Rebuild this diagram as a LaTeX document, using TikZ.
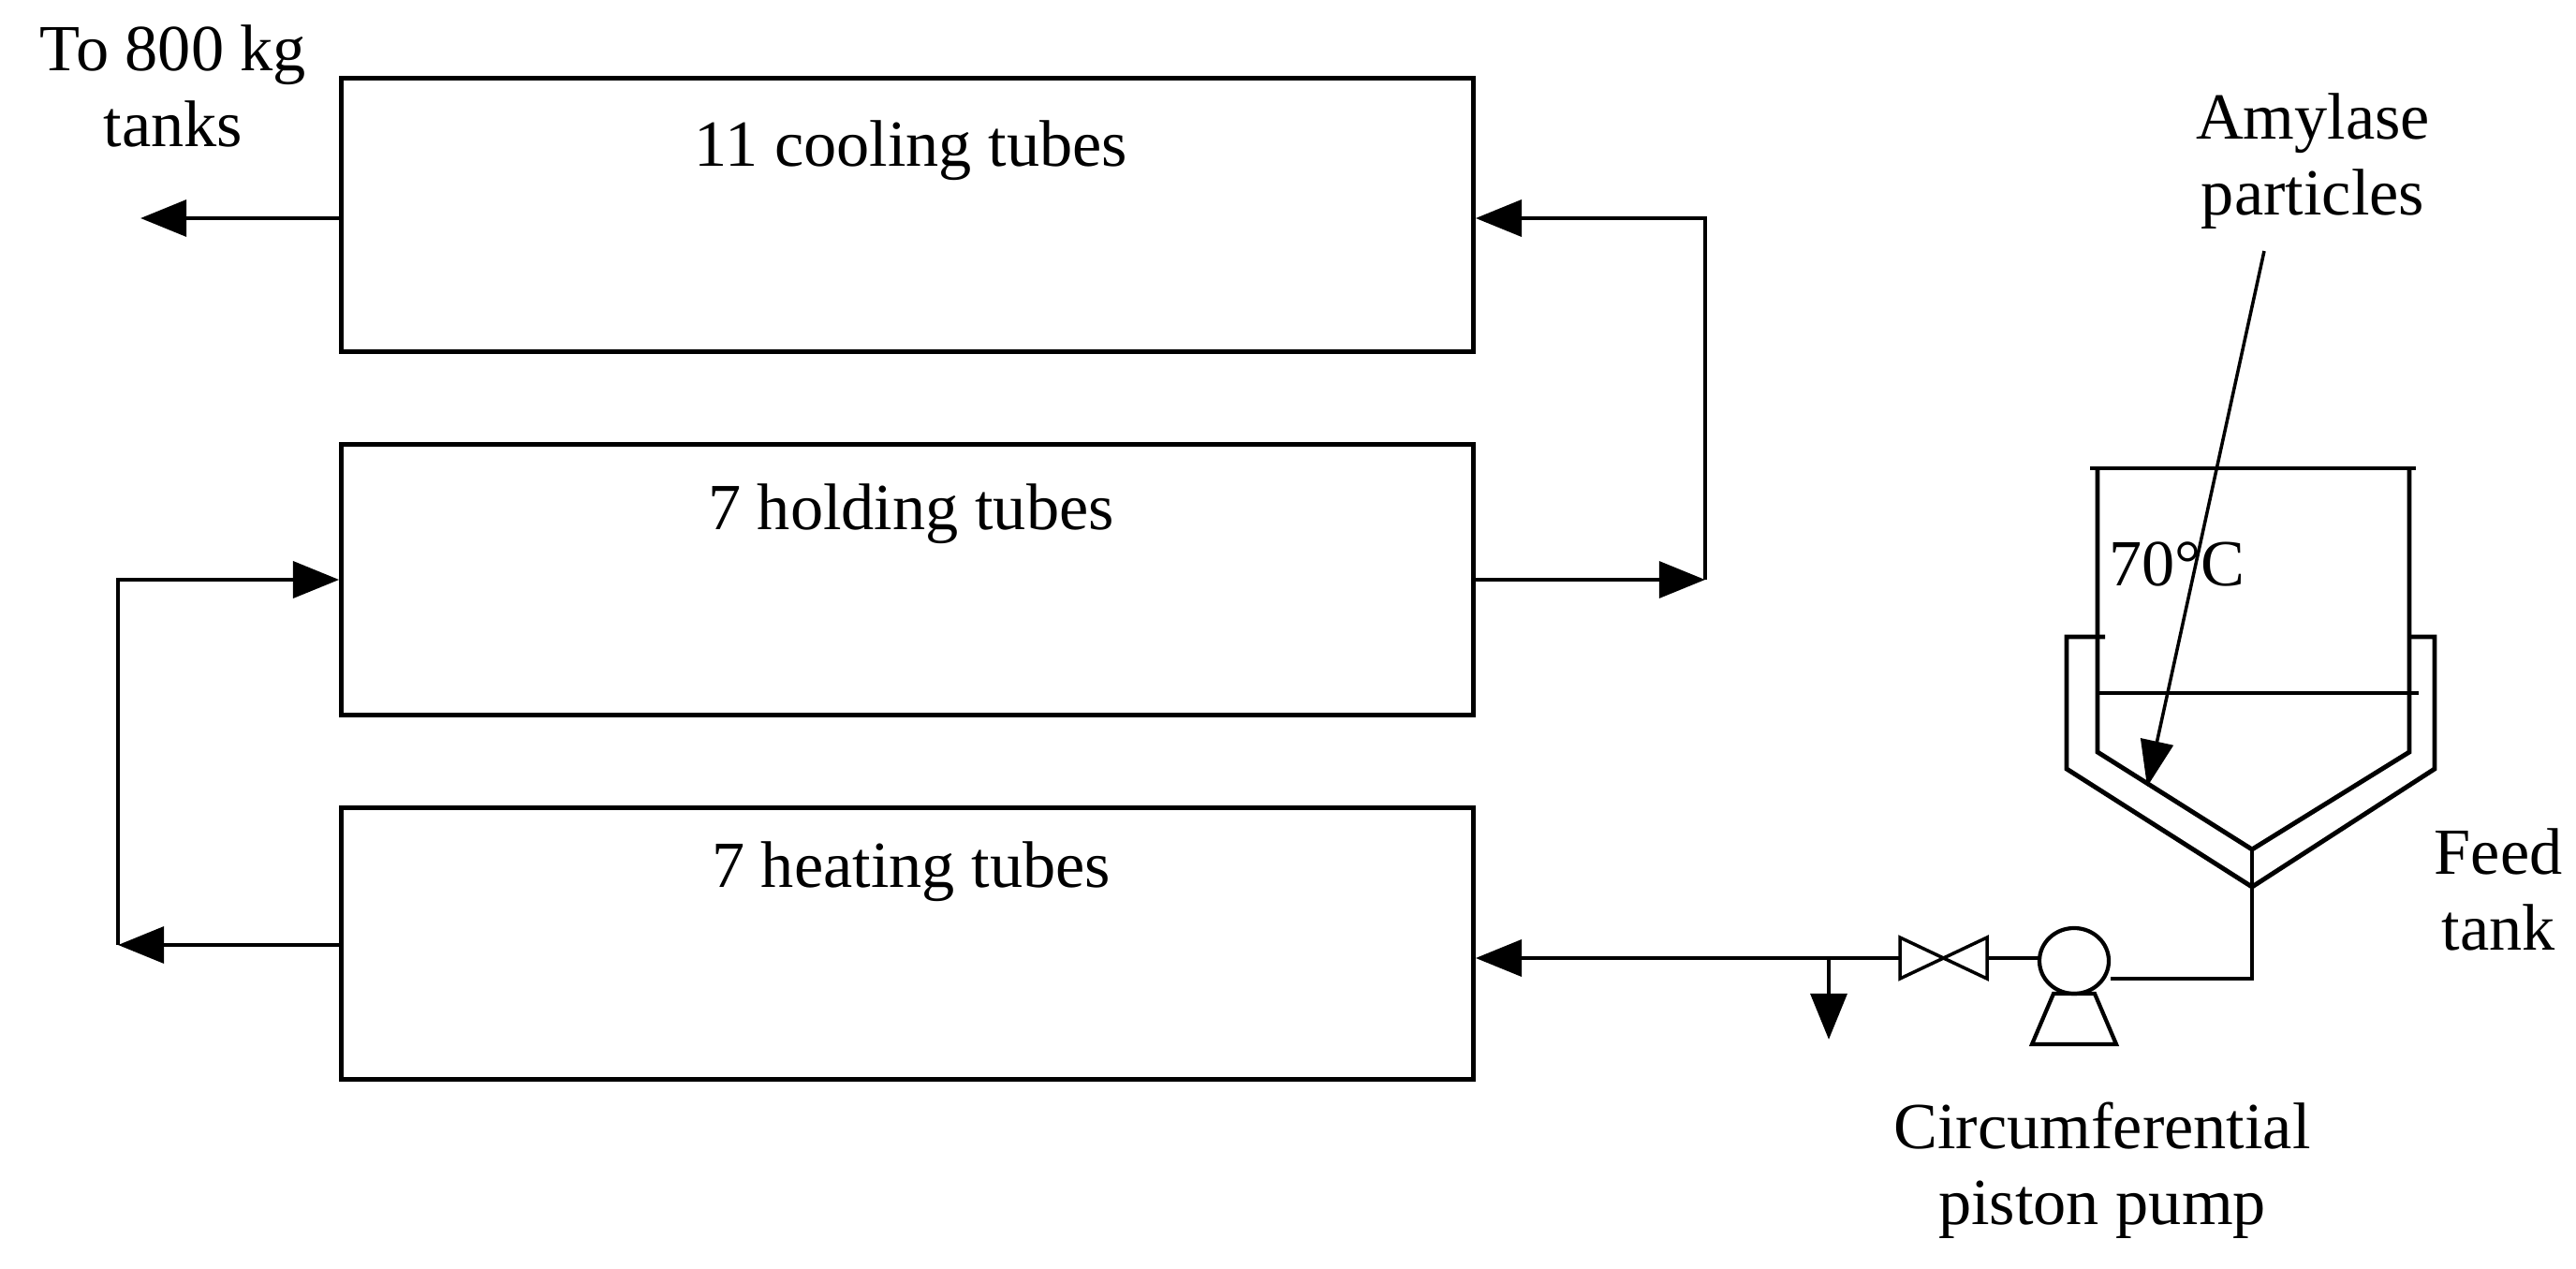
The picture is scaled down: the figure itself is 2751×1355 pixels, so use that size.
\documentclass[tikz,border=0pt]{standalone}
\usepackage{fontspec}
\setmainfont{Liberation Serif}
\usetikzlibrary{arrows.meta,shapes.geometric}
\begin{document}
\begin{tikzpicture}[x=0.01cm,y=-0.01cm,line width=1.4pt,
  box/.style={draw,minimum width=12.08cm,minimum height=2.89cm,inner sep=0},
  lbl/.style={font=\fontsize{20}{23}\selectfont,align=center,inner sep=0},
  arr/.style={-{Triangle[length=14pt,width=11pt]}}]
\useasboundingbox (0,0) rectangle (2751,1355);
\node[box,minimum height=2.91cm] (cool) at (969,229.5) {};
\node[box,minimum height=2.88cm] (hold) at (969,619) {};
\node[box,minimum height=2.89cm] (heat) at (969,1007.5) {};
\node[lbl] at (973,161) {11 cooling tubes};
\node[lbl] at (973,549) {7 holding tubes};
\node[lbl] at (973,931) {7 heating tubes};
\node[lbl] (out) at (185,92) {To 800 kg\\tanks};
\coordinate (outend) at (150,233);
\draw[arr] (cool.west |- 0,233) -- (outend);
% right loop
\coordinate (r1) at (1821,619);
\coordinate (r2) at (1821,233);
\draw[arr] (hold.east |- 0,619) -- (r1);
\draw[arr] (r1) -- (r2) -- (cool.east |- 0,233);
% left loop
\coordinate (l1) at (126,1009);
\coordinate (l2) at (126,619);
\draw[arr] (heat.west |- 0,1009) -- (l1);
\draw[arr] (l1) -- (l2) -- (hold.west |- 0,619);
% feed line
\coordinate (br) at (1953,1023);
\coordinate (brd) at (1953,1110);
\coordinate (vl) at (2029,1023);
\coordinate (vr) at (2122,1023);
\draw[arr] (vl) -- (br) -- (heat.east |- 0,1023);
\draw[arr] (br) -- (brd);
% valve
\draw[line width=1pt] (2029,1001) -- (2029,1045) -- (2122,1001) -- (2122,1045) -- cycle;
% pump
\node[draw,ellipse,minimum width=0.74cm,minimum height=0.7cm,inner sep=0,line width=1.2pt] (pump) at (2215,1026) {};
\draw (vr) -- (pump.west |- 0,1023);
\draw[line width=1.2pt] (2193,1061) -- (2237,1061) -- (2260,1115) -- (2170,1115) -- cycle;
% tank
\coordinate (apexo) at (2405,947);
\draw (pump.east |- 0,1045) -- (2405,1045) -- (apexo);
\draw (2232,500) -- (2580,500);
\draw (2240,500) -- (2240,803) -- (2405,907) -- (2573,803) -- (2573,500);
\draw (2240,740) -- (2583,740);
\draw (2248,680) -- (2207,680) -- (2207,821) -- (apexo) -- (2600,821) -- (2600,680) -- (2573,680);
\draw (2405,907) -- (2405,947);
\node[lbl,anchor=west] (temp) at (2250,602) {70°C};
\node[lbl] (amy) at (2470,172) {Amylase\\particles};
\coordinate (amytip) at (2293,840);
\draw[line width=1pt,-{Triangle[length=14pt,width=10pt]}] (2418,268) -- (amytip);
\node[lbl] (feed) at (2668,950) {Feed\\tank};
\node[lbl] (pl) at (2245,1250) {Circumferential\\piston pump};
\end{tikzpicture}
\end{document}
